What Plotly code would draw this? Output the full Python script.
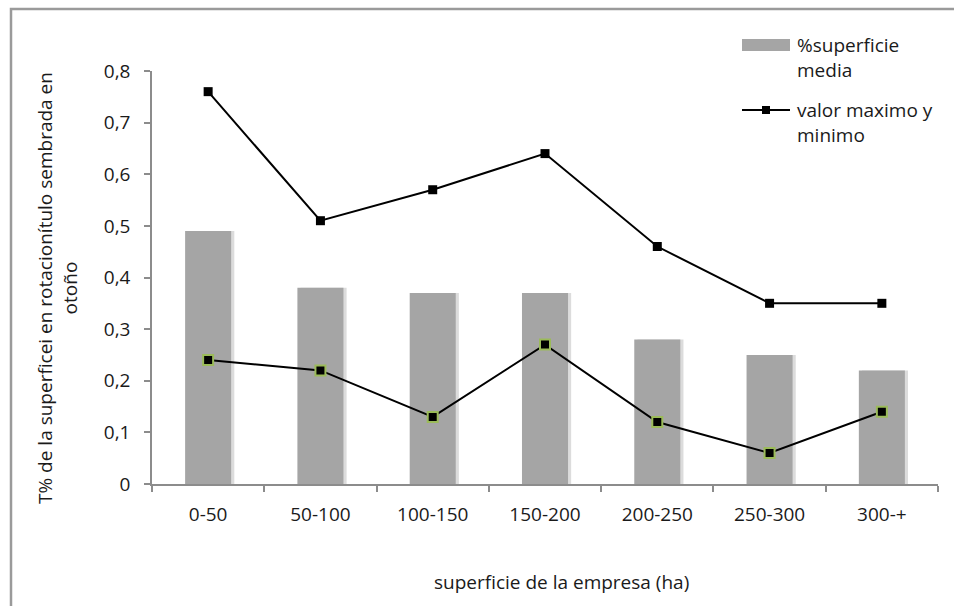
import plotly.graph_objects as go

# Farm size classes (ha)
categorias = ["0-50", "50-100", "100-150", "150-200", "200-250", "250-300", "300-+"]

# Mean share of area sown in autumn, per size class
superficie_media = [0.49, 0.38, 0.37, 0.37, 0.28, 0.25, 0.22]

# Maximum and minimum values per size class
valor_maximo = [0.76, 0.51, 0.57, 0.64, 0.46, 0.35, 0.35]
valor_minimo = [0.24, 0.22, 0.13, 0.27, 0.12, 0.06, 0.14]

# Y axis ticks
y_ticks = [0, 0.1, 0.2, 0.3, 0.4, 0.5, 0.6, 0.7, 0.8]
y_tick_labels = ["0", "0,1", "0,2", "0,3", "0,4", "0,5", "0,6", "0,7", "0,8"]

# Legend labels
etiqueta_barras = "%superficie<br>media"
etiqueta_lineas = "valor maximo y<br>minimo"

FONT = "Open Sans"
FS = 19
TXT = "#1a1a1a"
BAR_COLOR = "#a5a5a5"

# plot-area geometry in pixels (used to place decorations in paper coords)
W, H = 954, 606
L, R, T, B = 152, 16, 71, 122
PW, PH = W - L - R, H - T - B


def px(xp):
    return (xp - L) / PW


def py(yp):
    return (H - B - yp) / PH


BAR_W = 0.41

fig = go.Figure()

# light shadow on the right of each bar
fig.add_trace(go.Bar(
    x=categorias, y=superficie_media,
    width=BAR_W, offset=-BAR_W / 2 + 0.028,
    marker=dict(color="#dcdcdc", line=dict(width=0)),
    showlegend=False, hoverinfo="skip",
))

fig.add_trace(go.Bar(
    x=categorias, y=superficie_media,
    width=BAR_W, offset=-BAR_W / 2,
    marker=dict(color=BAR_COLOR, line=dict(width=0)),
    name="%superficie media", showlegend=False,
))

fig.add_trace(go.Scatter(
    x=categorias, y=valor_maximo,
    mode="lines+markers",
    line=dict(color="black", width=2),
    marker=dict(symbol="square", size=9, color="black"),
    name="valor maximo", showlegend=False,
))

fig.add_trace(go.Scatter(
    x=categorias, y=valor_minimo,
    mode="lines+markers",
    line=dict(color="black", width=2),
    marker=dict(symbol="square", size=10, color="black",
                line=dict(color="#9bbb59", width=2)),
    name="valor minimo", showlegend=False,
))

# legend keys drawn as shapes (wide swatch and line with square marker)
legend_shapes = [
    dict(type="rect", xref="paper", yref="paper",
         x0=px(742), x1=px(790), y0=py(51), y1=py(39),
         fillcolor=BAR_COLOR, line=dict(width=0)),
    dict(type="line", xref="paper", yref="paper",
         x0=px(742), x1=px(790), y0=py(110), y1=py(110),
         line=dict(color="black", width=2)),
    dict(type="rect", xref="paper", yref="paper",
         x0=px(762), x1=px(770), y0=py(114), y1=py(106),
         fillcolor="black", line=dict(width=0)),
]

fig.update_layout(
    width=W, height=H,
    margin=dict(l=L, r=R, t=T, b=B),
    paper_bgcolor="white",
    plot_bgcolor="white",
    barmode="overlay",
    showlegend=False,
    font=dict(family=FONT, size=FS, color=TXT),
    xaxis=dict(
        type="category",
        range=[-0.5, len(categorias) - 0.5],
        showline=True, linecolor="#8c8c8c", linewidth=1.5,
        ticks="outside", ticklen=6, tickcolor="#8c8c8c", tickwidth=1.5,
        tickson="boundaries",
        showgrid=False, zeroline=False,
        ticklabelstandoff=12,
        tickfont=dict(family=FONT, size=FS, color=TXT),
    ),
    yaxis=dict(
        range=[0, 0.8],
        tickvals=y_ticks, ticktext=y_tick_labels,
        showline=True, linecolor="#8c8c8c", linewidth=1.5,
        ticks="outside", ticklen=6, tickcolor="#8c8c8c", tickwidth=1.5,
        showgrid=False, zeroline=False,
        ticklabelstandoff=10,
        tickfont=dict(family=FONT, size=FS, color=TXT),
    ),
    annotations=[
        dict(
            text="T% de la superficei en rotacionítulo sembrada en<br>otoño",
            xref="paper", yref="paper", x=px(57), y=py(288),
            xanchor="center", yanchor="middle", textangle=-90,
            showarrow=False, font=dict(family=FONT, size=FS, color=TXT),
        ),
        dict(
            text="superficie de la empresa (ha)",
            xref="paper", yref="paper", x=px(561), y=py(582),
            xanchor="center", yanchor="middle",
            showarrow=False, font=dict(family=FONT, size=FS, color=TXT),
        ),
        dict(
            text=etiqueta_barras, align="left",
            xref="paper", yref="paper", x=px(795), y=py(57.5),
            xanchor="left", yanchor="middle",
            showarrow=False, font=dict(family=FONT, size=FS, color=TXT),
        ),
        dict(
            text=etiqueta_lineas, align="left",
            xref="paper", yref="paper", x=px(795), y=py(122.5),
            xanchor="left", yanchor="middle",
            showarrow=False, font=dict(family=FONT, size=FS, color=TXT),
        ),
    ],
    shapes=[
        dict(
            type="rect", xref="paper", yref="paper",
            x0=px(11), x1=px(W + 20), y0=py(H + 20), y1=py(9),
            line=dict(color="#9a9a9a", width=2.5),
            fillcolor="rgba(0,0,0,0)", layer="below",
        ),
    ] + legend_shapes,
)

fig.write_html("out.html")
